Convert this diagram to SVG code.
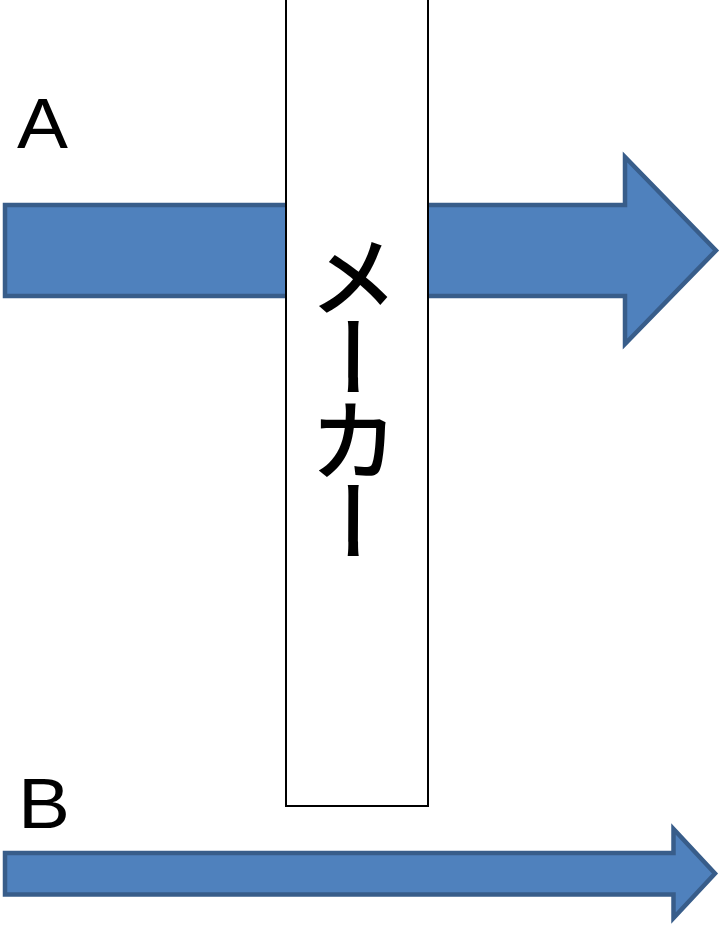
<svg xmlns="http://www.w3.org/2000/svg" width="721" height="945" viewBox="0 0 721 945">
<style>
.arrow{fill:#4f81bd;stroke:#385d8a;stroke-width:4.5;stroke-linejoin:miter}
.lbl{font-family:"Liberation Sans",Arial,sans-serif;font-size:70px;fill:#000}
.maker{font-family:"Noto Sans CJK JP","Noto Sans",sans-serif;font-size:90px;font-weight:500;letter-spacing:-8px;fill:#000}
</style>
<rect width="721" height="945" fill="#fff"/>
<g id="arrowA">
<polygon class="arrow" points="5,205 625,205 625,157 716,250.5 625,344 625,296 5,296"/>
</g>
<g id="arrowB">
<polygon class="arrow" points="5,853 673.5,853 673.5,829 715,873.5 673.5,918 673.5,894.5 5,894.5"/>
</g>
<g id="labelA"><text class="lbl" x="17" y="148" textLength="51" lengthAdjust="spacingAndGlyphs">A</text></g>
<g id="labelB"><text class="lbl" x="18" y="828" textLength="52" lengthAdjust="spacingAndGlyphs">B</text></g>
<g id="maker">
<rect x="286" y="-5" width="142" height="811" fill="#fff" stroke="#000" stroke-width="2"/>
<text class="maker" x="354" y="231" writing-mode="vertical-rl">メーカー</text>
</g>
</svg>
